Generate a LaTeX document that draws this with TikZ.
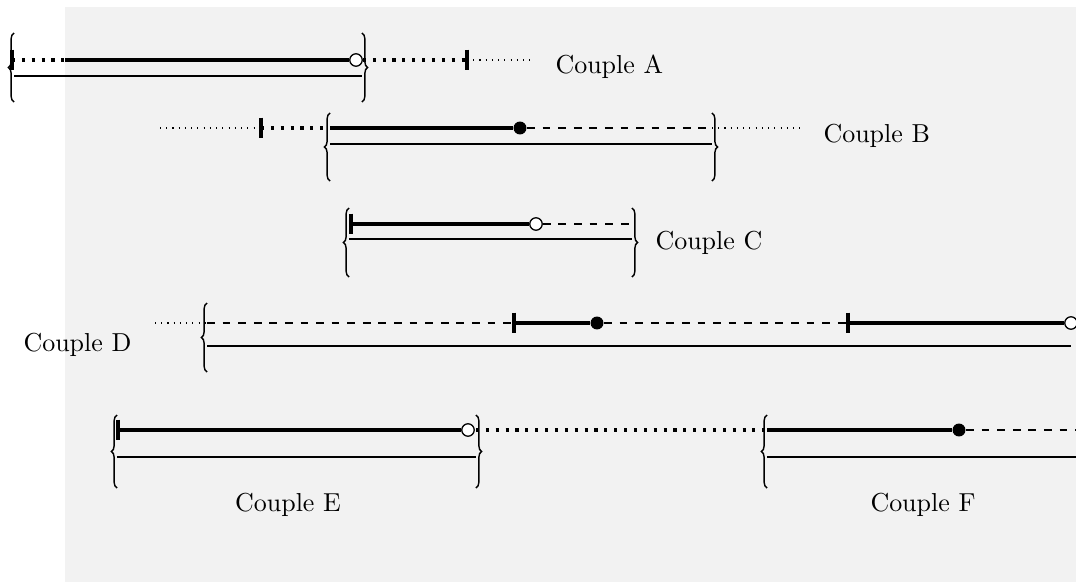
\documentclass[tikz,border=0pt]{standalone}
\usetikzlibrary{decorations.pathreplacing}
\begin{document}
\begin{tikzpicture}[x=0.385pt,y=-0.385pt,
  thickline/.style={line width=1.25pt},
  thickdot/.style={line width=1.2pt, dash pattern=on 1.2pt off 2.6pt},
  thindot/.style={line width=0.4pt, dotted},
  dashline/.style={line width=0.5pt, dashed},
  lowline/.style={line width=0.5pt},
  tickmark/.style={line width=1.2pt},
  bracepath/.style={decorate, decoration={brace, amplitude=2.2pt}, line width=0.55pt},
  opendot/.style={circle, draw, fill=white, line width=0.5pt, inner sep=0pt, minimum size=4.8pt},
  fulldot/.style={circle, fill=black, inner sep=0pt, minimum size=5pt},
  lbl/.style={inner sep=0pt, anchor=base west},
  lblc/.style={inner sep=0pt, anchor=base}]
\useasboundingbox (0,0) rectangle (1076,585);
\fill[black!5] (65,7) rectangle (1076,582);

% ---------------- Couple A ----------------
\coordinate (a0) at (12,60);
\coordinate (a1) at (65,60);
\node[opendot] (a2) at (356,60) {};
\coordinate (a3) at (467,60);
\coordinate (a4) at (532,60);
\coordinate (alo1) at (14,76);
\coordinate (alo2) at (362,76);
\coordinate (abl1) at (14,102);
\coordinate (abl2) at (14,33);
\coordinate (abr1) at (362,33);
\coordinate (abr2) at (362,102);
\draw[thickdot] (a0) -- (a1);
\draw[thickline] (a1) -- (a2);
\draw[thickdot] (a2) -- (a3);
\draw[thindot] (a3) -- (a4);
\draw[tickmark] ([yshift=4pt]a0) -- ([yshift=-4pt]a0);
\draw[tickmark] ([yshift=4pt]a3) -- ([yshift=-4pt]a3);
\draw[lowline] (alo1) -- (alo2);
\draw[bracepath] (abl1) -- (abl2);
\draw[bracepath] (abr1) -- (abr2);
\node[lbl] (coupleA) at (555,73) {Couple A};

% ---------------- Couple B ----------------
\coordinate (b0) at (160,128);
\coordinate (b1) at (261,128);
\coordinate (b2) at (330,128);
\node[fulldot] (b3) at (520,128) {};
\coordinate (b4) at (712,128);
\coordinate (b5) at (805,128);
\coordinate (blo1) at (330,144);
\coordinate (blo2) at (712,144);
\coordinate (bbl1) at (330,181);
\coordinate (bbl2) at (330,113);
\coordinate (bbr1) at (712,113);
\coordinate (bbr2) at (712,181);
\draw[thindot] (b0) -- (b1);
\draw[thickdot] (b1) -- (b2);
\draw[thickline] (b2) -- (b3);
\draw[dashline] (b3) -- (b4);
\draw[thindot] (b4) -- (b5);
\draw[tickmark] ([yshift=4pt]b1) -- ([yshift=-4pt]b1);
\draw[lowline] (blo1) -- (blo2);
\draw[bracepath] (bbl1) -- (bbl2);
\draw[bracepath] (bbr1) -- (bbr2);
\node[lbl] (coupleB) at (823,142) {Couple B};

% ---------------- Couple C ----------------
\coordinate (c0) at (351,224);
\node[opendot] (c1) at (536,224) {};
\coordinate (c2) at (632,224);
\coordinate (clo1) at (349,239);
\coordinate (clo2) at (632,239);
\coordinate (cbl1) at (349,277);
\coordinate (cbl2) at (349,208);
\coordinate (cbr1) at (632,208);
\coordinate (cbr2) at (632,277);
\draw[thickline] (c0) -- (c1);
\draw[dashline] (c1) -- (c2);
\draw[tickmark] ([yshift=4pt]c0) -- ([yshift=-4pt]c0);
\draw[lowline] (clo1) -- (clo2);
\draw[bracepath] (cbl1) -- (cbl2);
\draw[bracepath] (cbr1) -- (cbr2);
\node[lbl] (coupleC) at (655,249) {Couple C};

% ---------------- Couple D ----------------
\coordinate (d0) at (155,323);
\coordinate (d1) at (207,323);
\coordinate (d2) at (514,323);
\node[fulldot] (d3) at (597,323) {};
\coordinate (d4) at (848,323);
\node[opendot] (d5) at (1071,323) {};
\coordinate (dlo1) at (207,346);
\coordinate (dlo2) at (1071,346);
\coordinate (dbl1) at (207,372);
\coordinate (dbl2) at (207,303);
\draw[thindot] (d0) -- (d1);
\draw[dashline] (d1) -- (d2);
\draw[thickline] (d2) -- (d3);
\draw[dashline] (d3) -- (d4);
\draw[thickline] (d4) -- (d5);
\draw[tickmark] ([yshift=4pt]d2) -- ([yshift=-4pt]d2);
\draw[tickmark] ([yshift=4pt]d4) -- ([yshift=-4pt]d4);
\draw[lowline] (dlo1) -- (dlo2);
\draw[bracepath] (dbl1) -- (dbl2);
\node[lbl] (coupleD) at (23,351) {Couple D};

% ---------------- Couple E ----------------
\coordinate (e0) at (118,430);
\node[opendot] (e1) at (468,430) {};
\coordinate (e2) at (476,430);
\coordinate (elo1) at (117,457);
\coordinate (elo2) at (476,457);
\coordinate (ebl1) at (117,488);
\coordinate (ebl2) at (117,415);
\coordinate (ebr1) at (476,415);
\coordinate (ebr2) at (476,488);
\draw[thickline] (e0) -- (e1);
\draw[tickmark] ([yshift=4pt]e0) -- ([yshift=-4pt]e0);
\draw[lowline] (elo1) -- (elo2);
\draw[bracepath] (ebl1) -- (ebl2);
\draw[bracepath] (ebr1) -- (ebr2);
\node[lblc] (coupleE) at (288,511) {Couple E};

% ---------------- Couple F ----------------
\coordinate (f0) at (767,430);
\node[fulldot] (f1) at (959,430) {};
\coordinate (f2) at (1082,430);
\coordinate (flo1) at (767,457);
\coordinate (flo2) at (1082,457);
\coordinate (fbl1) at (767,488);
\coordinate (fbl2) at (767,415);
\draw[thickdot] (e2) -- (f0);
\draw[thickline] (f0) -- (f1);
\draw[dashline] (f1) -- (f2);
\draw[lowline] (flo1) -- (flo2);
\draw[bracepath] (fbl1) -- (fbl2);
\node[lblc] (coupleF) at (923,511) {Couple F};
\end{tikzpicture}
\end{document}
